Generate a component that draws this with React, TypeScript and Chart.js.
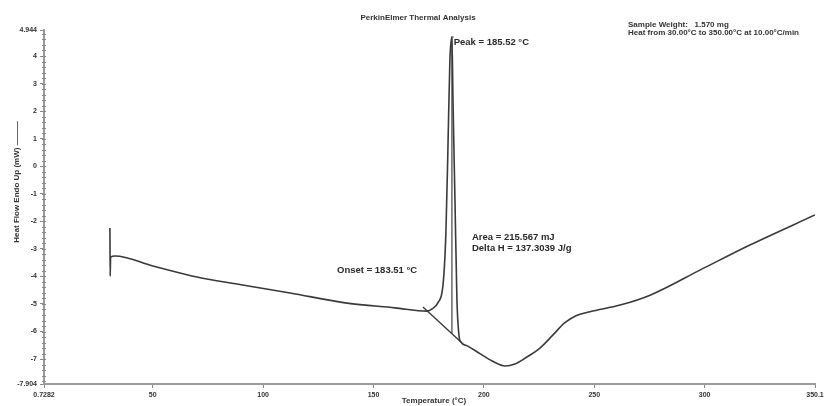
import React, { useEffect, useRef } from "react";
import { Chart, registerables } from "chart.js";

Chart.register(...registerables);

// ---- data ----
const temperatureC = [
  30.6, 30.7, 30.9, 32.9, 50, 70.0, 90, 112.2, 138.0, 159.7, 174.2, 176.7, 179.2, 181.5,
  182.8, 183.7, 184.6, 185.52, 186.0, 186.9, 187.8, 188.7, 189.6, 192.5, 198.2, 204, 209.6, 214,
  219, 225.4, 231, 236.7, 242, 248.1, 261.7, 275.3, 297.9, 320.5, 350.0,
];
const heatFlowMW = [
  -2.24, -3.99, -3.3, -3.26, -3.62, -4.02, -4.3, -4.6, -4.97, -5.14, -5.26, -5.17, -4.95,
  -4.3, -2.4, 0.6, 3.85, 4.69, 2.4, -1.23, -4.86, -6.13, -6.38, -6.52, -6.8, -7.08, -7.25, -7.18,
  -6.95, -6.6, -6.15, -5.68, -5.42, -5.28, -5.04, -4.68, -3.77, -2.86, -1.77,
];
const baselineT = [172.4, 189.6];
const baselineV = [-5.11, -6.38];
const peakT = 185.52;
const peakV = 4.69;
const peakBaseV = -6.07;

const xMin = 0.7282;
const xMax = 350.0;
const xTickValues = [0.7282, 50, 100, 150, 200, 250, 300, 350.0];
const xTickLabels = ["0.7282", "50", "100", "150", "200", "250", "300", "350.1"];
const yMin = -7.904;
const yMax = 4.944;
const yTickValues = [-7.904, -7, -6, -5, -4, -3, -2, -1, 0, 1, 2, 3, 4, 4.944];
const yTickLabels = ["-7.904", "-7", "-6", "-5", "-4", "-3", "-2", "-1", "0", "1", "2", "3", "4", "4.944"];

const chartTitle = "PerkinElmer Thermal Analysis";
const infoLines = ["Sample Weight:   1.570 mg", "Heat from 30.00°C to 350.00°C at 10.00°C/min"];
const xTitle = "Temperature (°C)";
const yTitle = "Heat Flow Endo Up (mW) ———";

// annotations in data coordinates
const annoText = ["Peak = 185.52 °C", "Onset = 183.51 °C", "Area = 215.567 mJ", "Delta H = 137.3039 J/g"];
const annoT = [186.3, 133.5, 194.6, 194.6];
const annoV = [4.5, -3.77, -2.57, -2.97];

const FONT = "'Liberation Sans', Arial, sans-serif";

const textPlugin = {
  id: "texts",
  afterDraw(chart: any) {
    const ctx = chart.ctx;
    const xs = chart.scales.x;
    const ys = chart.scales.y;
    ctx.save();
    // minor y ticks
    ctx.strokeStyle = "#888";
    ctx.lineWidth = 1;
    const ax = chart.chartArea.left;
    for (let v = -7.8; v <= 4.9; v += 0.2) {
      const py = Math.round(ys.getPixelForValue(v)) + 0.5;
      ctx.beginPath();
      ctx.moveTo(ax - 2, py);
      ctx.lineTo(ax + 2, py);
      ctx.stroke();
    }
    ctx.fillStyle = "#333";
    ctx.textBaseline = "middle";
    // title
    ctx.font = `bold 8px ${FONT}`;
    ctx.textAlign = "center";
    ctx.fillText(chartTitle, 418, 18);
    // info
    ctx.textAlign = "left";
    ctx.fillText(infoLines[0], 628, 25);
    ctx.fillText(infoLines[1], 628, 33);
    // x title
    ctx.textAlign = "center";
    ctx.fillText(xTitle, 434, 401);
    // y title
    ctx.save();
    ctx.translate(17, 182);
    ctx.rotate(-Math.PI / 2);
    ctx.fillText(yTitle, 0, 0);
    ctx.restore();
    // annotations
    ctx.font = `bold 9.5px ${FONT}`;
    ctx.fillStyle = "#2a2a2a";
    ctx.textAlign = "left";
    for (let i = 0; i < annoText.length; i++) {
      ctx.fillText(annoText[i], xs.getPixelForValue(annoT[i]), ys.getPixelForValue(annoV[i]));
    }
    ctx.restore();
  },
};

export default function App() {
  const ref = useRef<HTMLCanvasElement>(null);
  useEffect(() => {
    if (!ref.current) return;
    const chart = new Chart(ref.current, {
      type: "line",
      data: {
        datasets: [
          {
            data: temperatureC.map((t, i) => ({ x: t, y: heatFlowMW[i] })),
            borderColor: "#3a3a3a",
            borderWidth: 1.6,
            pointRadius: 0,
            cubicInterpolationMode: "monotone",
          },
          {
            data: baselineT.map((t, i) => ({ x: t, y: baselineV[i] })),
            borderColor: "#3a3a3a",
            borderWidth: 1.4,
            pointRadius: 0,
          },
          {
            data: [
              { x: peakT + 0.8, y: peakV },
              { x: peakT, y: peakV },
              { x: peakT, y: peakBaseV },
            ],
            borderColor: "#444",
            borderWidth: 1.2,
            pointRadius: 0,
          },
        ],
      },
      options: {
        animation: false,
        responsive: false,
        maintainAspectRatio: false,
        layout: { padding: { top: 30, right: 16, left: 0, bottom: 0 } },
        plugins: { legend: { display: false }, tooltip: { enabled: false }, title: { display: false } },
        scales: {
          x: {
            type: "linear",
            min: xMin,
            max: xMax,
            afterBuildTicks: (s: any) => {
              s.ticks = xTickValues.map((v) => ({ value: v }));
            },
            afterFit: (s: any) => {
              s.height = 22;
            },
            ticks: {
              autoSkip: false,
              maxRotation: 0,
              padding: 3,
              color: "#333",
              font: { size: 7, weight: "bold", family: FONT },
              callback: (_v: any, i: number) => xTickLabels[i],
            },
            grid: { drawOnChartArea: false, tickLength: 4, color: "#888" },
            border: { display: true, color: "#9a9a9a", width: 2 },
          },
          y: {
            type: "linear",
            min: yMin,
            max: yMax,
            afterBuildTicks: (s: any) => {
              s.ticks = yTickValues.map((v) => ({ value: v }));
            },
            afterFit: (s: any) => {
              s.width = 44;
            },
            ticks: {
              autoSkip: false,
              padding: 3,
              color: "#333",
              font: { size: 7, weight: "bold", family: FONT },
              callback: (_v: any, i: number) => yTickLabels[i],
            },
            grid: { drawOnChartArea: false, tickLength: 4, color: "#888" },
            border: { display: true, color: "#9a9a9a", width: 2 },
          },
        },
      },
      plugins: [textPlugin],
    } as any);
    return () => chart.destroy();
  }, []);
  return (
    <div style={{ position: "absolute", left: 0, top: 0, width: 831, height: 406, background: "#fff" }}>
      <canvas ref={ref} width={831} height={406} style={{ width: 831, height: 406, display: "block" }} />
    </div>
  );
}
